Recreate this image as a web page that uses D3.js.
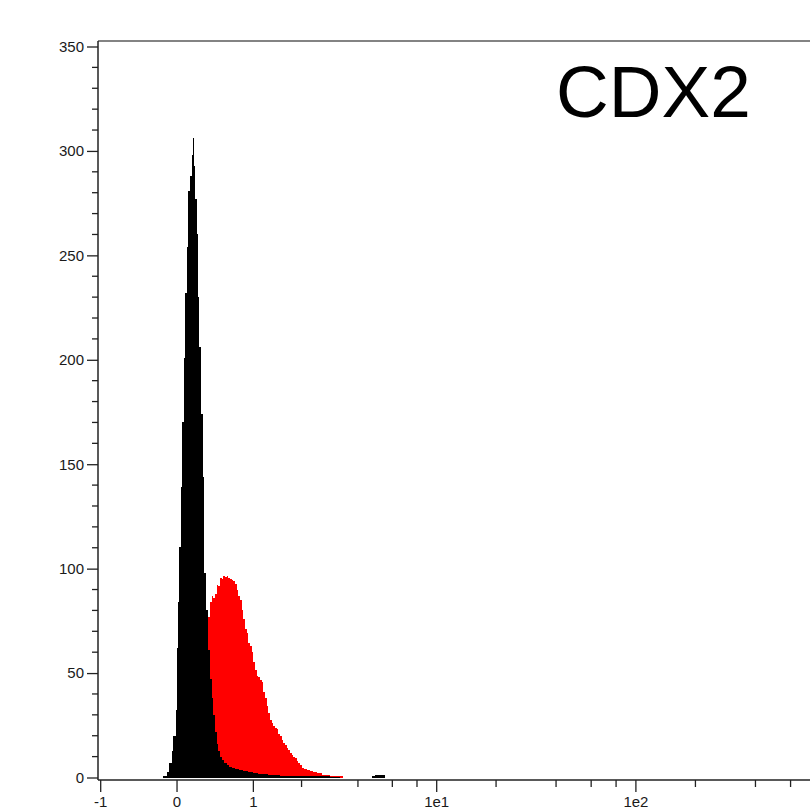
<!DOCTYPE html>
<html>
<head>
<meta charset="utf-8">
<script src="https://cdn.jsdelivr.net/npm/d3@7"></script>
<style>
  html, body { margin: 0; padding: 0; background: #fff; overflow: hidden; }
  svg { display: block; }
  .tick text { font-family: "Liberation Sans", Arial, sans-serif; fill: #1a1a1a; }
</style>
</head>
<body>
<svg id="chart" width="810" height="809"></svg>
<script>
// ---------------- DATA ----------------
// Histogram bins: x = arcsinh-scaled intensity (cofactor 1) of each bin's left edge, y = event count
const blackBinX = [-0.1547,-0.1155,-0.0854,-0.0577,-0.0393,-0.0115,0.0035,0.0185,0.0300,0.0497,
  0.0670,0.0878,0.0993,0.1189,0.1339,0.1536,0.1732,0.1848,0.2032,0.2148,
  0.2309,0.2494,0.2610,0.2806,0.3002,0.3187,0.3383,0.3580,0.3845,0.4041,
  0.4249,0.4423,0.4619,0.4827,0.5000,0.5231,0.5462,0.5774,0.6039,0.6351,
  0.6732,0.7194,0.7656,0.8233,0.8810,0.9388,0.9965,1.0542,1.1235,1.1928,
  1.3083,1.4237,1.5392,1.6547,1.7702,1.8856,2.2552,2.2898,2.4053];
const blackCounts = [0.5,2.4,7,12.6,19.7,32.5,62,84,110.6,139,
  170,201,232,254,281,288,298,306,293,277,
  260,230,206,174,144,98,80,61,47,38,
  30,22,16,12.6,10,8.5,7,6,5.2,4.7,
  4,3.4,3,2.6,2.2,1.8,1.5,1.3,1,0.7,
  0.8,0.7,0.6,0.5,0.4,0,0.5,1,0];

const redBinX = [0.0381,0.0958,0.1536,0.2113,0.2690,0.3152,0.3499,0.3649,0.3845,0.4041,
  0.4226,0.4423,0.4619,0.4804,0.5000,0.5196,0.5381,0.5577,0.5774,0.5958,
  0.6155,0.6351,0.6536,0.6732,0.6928,0.7113,0.7309,0.7506,0.7690,0.7887,
  0.8083,0.8268,0.8464,0.8660,0.8845,0.9041,0.9238,0.9423,0.9619,0.9815,
  1.0000,1.0196,1.0392,1.0577,1.0773,1.0970,1.1154,1.1351,1.1547,1.1732,
  1.1928,1.2124,1.2309,1.2505,1.2702,1.2887,1.3083,1.3279,1.3464,1.3660,
  1.3857,1.4041,1.4237,1.4434,1.4700,1.5011,1.5392,1.5773,1.6201,1.6743,
  1.7124,1.7702,1.8279,1.8856,1.9238];
const redCounts = [2,8,20,35,50,62,72,77,84,86.7,
  86,88,92,91.5,95.5,95,96.3,95.8,96.3,95.6,
  95.2,94.7,93.9,92.5,90,87,85,80,76,71,
  69,64.5,62.8,60,55.5,51.6,48.6,48,46.9,45.5,
  41,38,34,31,27.7,26,24.5,23.5,23,21,
  19.7,18,16.6,15.5,14.2,13,11.8,10.6,9.6,9.4,
  7.8,7,6,4.6,4.2,3.8,3,2.5,2,1.4,
  1,0.7,0.6,0.5,0];

const xMajorTicks = [-1, 0, 1, 10, 100];
const xTickLabels = ["-1", "0", "1", "1e1", "1e2"];
const xMinorTicks = [2, 4, 6, 8, 20, 40, 60, 80, 200, 400, 600, 800];
const yMajorTicks = [0, 50, 100, 150, 200, 250, 300, 350];
const yMinorTicks = d3.range(0, 351, 10).filter(v => v % 50 !== 0);
const titleText = "CDX2";

// ---------------- LAYOUT ----------------
const svg = d3.select("#chart");
const plotLeft = 98, plotTop = 41, axisY = 780, plotRight = 810;

const xs = d3.scaleLinear()
  .domain([Math.asinh(-1), Math.asinh(100)])
  .range([100.2, 635.4]);
const ys = d3.scaleLinear().domain([0, 350]).range([777.5, 46.5]);

// histograms (red behind, black in front)
const area = d3.area()
  .curve(d3.curveStepAfter)
  .x(d => xs(d[0]))
  .y0(ys(0))
  .y1(d => ys(d[1]));

const redData = redBinX.map((x, i) => [x, redCounts[i]]);
const blackData = blackBinX.map((x, i) => [x, blackCounts[i]]);

svg.append("path").datum(redData).attr("d", area).attr("fill", "#ff0000")
  .attr("shape-rendering", "crispEdges");
svg.append("path").datum(blackData).attr("d", area).attr("fill", "#000000")
  .attr("shape-rendering", "crispEdges");

// frame top line
svg.append("line")
  .attr("x1", plotLeft).attr("x2", plotRight)
  .attr("y1", plotTop).attr("y2", plotTop)
  .attr("stroke", "#5a5a5a").attr("stroke-width", 1.5);

// y axis
const yAxis = d3.axisLeft(ys).tickValues(yMajorTicks).tickSizeInner(11).tickSizeOuter(0).tickPadding(3);
const gy = svg.append("g").attr("transform", `translate(${plotLeft},0)`).call(yAxis);
gy.select(".domain").remove();
gy.selectAll(".tick line").attr("stroke", "#222").attr("stroke-width", 1.3);
gy.selectAll(".tick text").style("font-size", "15px");
svg.append("g").selectAll("line").data(yMinorTicks).join("line")
  .attr("x1", plotLeft - 6).attr("x2", plotLeft)
  .attr("y1", d => ys(d)).attr("y2", d => ys(d))
  .attr("stroke", "#222").attr("stroke-width", 1.3);
svg.append("line")
  .attr("x1", plotLeft).attr("x2", plotLeft)
  .attr("y1", plotTop).attr("y2", axisY)
  .attr("stroke", "#222").attr("stroke-width", 1.5);

// x axis
const xAxis = d3.axisBottom(xs)
  .tickValues(xMajorTicks.map(Math.asinh))
  .tickFormat((d, i) => xTickLabels[i])
  .tickSizeInner(12).tickSizeOuter(0).tickPadding(4);
const gx = svg.append("g").attr("transform", `translate(0,${axisY})`).call(xAxis);
gx.select(".domain").remove();
gx.selectAll(".tick line").attr("stroke", "#222").attr("stroke-width", 1.3);
gx.selectAll(".tick text").style("font-size", "15px");
svg.append("g").selectAll("line").data(xMinorTicks).join("line")
  .attr("x1", d => xs(Math.asinh(d))).attr("x2", d => xs(Math.asinh(d)))
  .attr("y1", axisY).attr("y2", axisY + 7)
  .attr("stroke", "#222").attr("stroke-width", 1.3);
svg.append("line")
  .attr("x1", plotLeft).attr("x2", plotRight)
  .attr("y1", axisY).attr("y2", axisY)
  .attr("stroke", "#222").attr("stroke-width", 1.5);

// title
svg.append("text")
  .attr("x", 556).attr("y", 117)
  .attr("font-family", "Liberation Sans, Arial, sans-serif")
  .attr("font-size", 73)
  .attr("fill", "#000")
  .text(titleText);
</script>
</body>
</html>
